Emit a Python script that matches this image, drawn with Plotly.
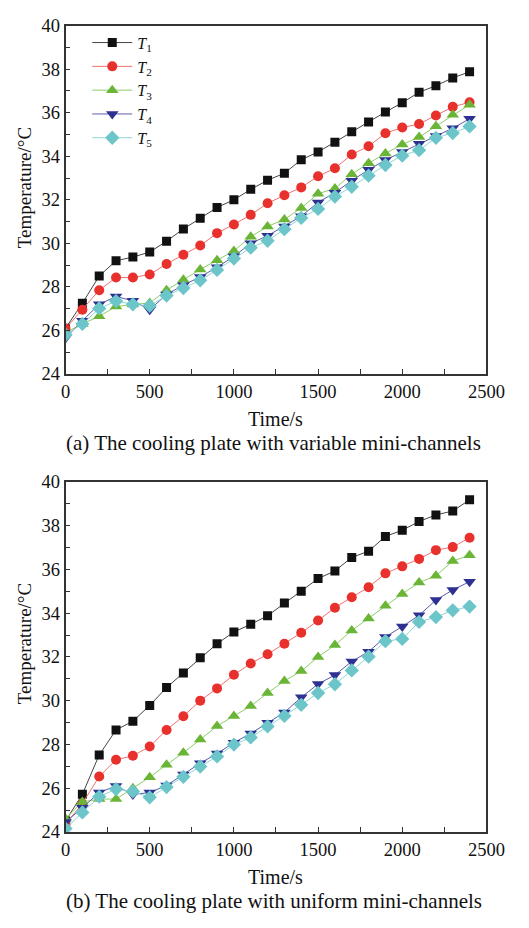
import plotly.graph_objects as go

time_s = [0, 100, 200, 300, 400, 500, 600, 700, 800, 900, 1000, 1100, 1200,
          1300, 1400, 1500, 1600, 1700, 1800, 1900, 2000, 2100, 2200, 2300, 2400]

# (a) variable mini-channels
a_T1 = [26.1, 27.25, 28.5, 29.2, 29.37, 29.6, 30.1, 30.66, 31.15, 31.65, 32.0, 32.48, 32.9,
        33.22, 33.84, 34.2, 34.65, 35.13, 35.58, 36.03, 36.46, 36.94, 37.24, 37.6, 37.88]
a_T2 = [26.08, 26.95, 27.85, 28.43, 28.43, 28.57, 29.05, 29.48, 29.9, 30.47, 30.87, 31.31, 31.84,
        32.21, 32.57, 33.08, 33.45, 34.08, 34.46, 35.06, 35.32, 35.48, 35.87, 36.27, 36.48]
a_T3 = [25.9, 26.3, 26.65, 27.1, 27.19, 27.26, 27.85, 28.33, 28.8, 29.23, 29.65, 30.3, 30.78,
        31.1, 31.62, 32.28, 32.52, 33.18, 33.68, 34.13, 34.54, 34.88, 35.38, 35.91, 36.37]
a_T4 = [25.65, 26.45, 27.2, 27.56, 27.36, 26.95, 27.65, 28.08, 28.46, 28.9, 29.4, 30.0, 30.35,
        30.78, 31.25, 31.88, 32.33, 32.88, 33.38, 33.83, 34.2, 34.58, 34.93, 35.29, 35.72]
a_T5 = [25.8, 26.3, 27.01, 27.35, 27.2, 27.13, 27.6, 27.95, 28.3, 28.78, 29.3, 29.8, 30.12,
        30.65, 31.17, 31.58, 32.15, 32.6, 33.11, 33.6, 34.03, 34.28, 34.85, 35.07, 35.37]

# (b) uniform mini-channels
b_T1 = [24.5, 25.72, 27.52, 28.66, 29.06, 29.78, 30.6, 31.26, 31.96, 32.6, 33.14, 33.49, 33.88,
        34.46, 35.0, 35.58, 35.93, 36.55, 36.83, 37.51, 37.79, 38.19, 38.49, 38.67, 39.18]
b_T2 = [24.35, 25.3, 26.53, 27.3, 27.48, 27.9, 28.66, 29.29, 30.0, 30.56, 31.18, 31.7, 32.12,
        32.6, 33.1, 33.66, 34.25, 34.73, 35.18, 35.82, 36.14, 36.48, 36.88, 37.02, 37.45]
b_T3 = [24.6, 25.37, 25.5, 25.5, 26.0, 26.5, 27.07, 27.62, 28.22, 28.84, 29.3, 29.75, 30.35,
        30.9, 31.35, 32.0, 32.54, 33.21, 33.76, 34.34, 34.88, 35.4, 35.71, 36.38, 36.65]
b_T4 = [24.45, 25.1, 25.8, 26.1, 25.71, 25.8, 26.12, 26.62, 27.14, 27.58, 28.08, 28.5, 28.99,
        29.46, 30.15, 30.76, 31.17, 31.79, 32.24, 32.91, 33.39, 33.9, 34.6, 35.06, 35.44]
b_T5 = [24.15, 24.89, 25.61, 25.96, 25.85, 25.58, 26.05, 26.52, 26.99, 27.45, 27.99, 28.32, 28.82,
        29.3, 29.81, 30.35, 30.75, 31.38, 32.01, 32.72, 32.82, 33.6, 33.82, 34.13, 34.3]

series_names = ["<i>T</i><sub>1</sub>", "<i>T</i><sub>2</sub>", "<i>T</i><sub>3</sub>",
                "<i>T</i><sub>4</sub>", "<i>T</i><sub>5</sub>"]
marker_colors = ["#111111", "#e8302c", "#6ab535", "#2e3192", "#6cc6c9"]
line_colors = ["#444444", "#f07070", "#8ccd6a", "#5a5ca8", "#8ed6d8"]
symbols = ["square", "circle", "triangle-up", "triangle-down", "diamond"]
sizes = [9, 10, 11, 11, 11]

fig = go.Figure()
for i, ys in enumerate([a_T1, a_T2, a_T3, a_T4, a_T5]):
    fig.add_trace(go.Scatter(x=time_s, y=ys, mode="lines+markers", name=series_names[i],
                             line=dict(color=line_colors[i], width=1),
                             marker=dict(symbol=symbols[i], size=sizes[i], color=marker_colors[i],
                                         line=dict(width=0)),
                             xaxis="x", yaxis="y", showlegend=True))
for i, ys in enumerate([b_T1, b_T2, b_T3, b_T4, b_T5]):
    fig.add_trace(go.Scatter(x=time_s, y=ys, mode="lines+markers", name=series_names[i],
                             line=dict(color=line_colors[i], width=1),
                             marker=dict(symbol=symbols[i], size=sizes[i], color=marker_colors[i],
                                         line=dict(width=0)),
                             xaxis="x2", yaxis="y2", showlegend=False))

W, H = 529, 928
def px(v):
    return v / W
def py(v):
    return 1 - v / H

font_family = "Liberation Serif"
tickfont = dict(family=font_family, size=18.5, color="#111111")

def xax(anchor, domain_y):
    return dict(domain=[px(63.3), px(503.3)], anchor=anchor, range=[0, 2500],
                tickmode="linear", tick0=0, dtick=500, ticks="inside", ticklen=5,
                tickwidth=1, tickcolor="#333333",
                minor=dict(dtick=250, ticks="inside", ticklen=5, tickcolor="#333333"),
                showline=True, linecolor="#333333", linewidth=1.5, mirror=True,
                showgrid=False, zeroline=False, tickfont=tickfont)

def yax(anchor, dom):
    return dict(domain=dom, anchor=anchor, range=[24, 40],
                tickmode="linear", tick0=24, dtick=2, ticks="inside", ticklen=5,
                tickwidth=1, tickcolor="#333333",
                minor=dict(dtick=1, ticks="inside", ticklen=5, tickcolor="#333333"),
                showline=True, linecolor="#333333", linewidth=1.5, mirror=True,
                showgrid=False, zeroline=False, tickfont=tickfont)

fig.update_layout(
    width=W, height=H, margin=dict(l=0, r=0, t=0, b=0),
    paper_bgcolor="white", plot_bgcolor="white",
    xaxis=xax("y", None), yaxis=yax("x", [py(372), py(16)]),
    xaxis2=xax("y2", None), yaxis2=yax("x2", [py(840), py(482.3)]),
    legend=dict(x=px(86), y=py(16), xanchor="left", yanchor="top",
                font=dict(family=font_family, size=16, color="#111111"),
                bgcolor="rgba(0,0,0,0)", borderwidth=0, tracegroupgap=0,
                itemwidth=40),
    showlegend=True,
)

annots = [
    dict(text="Time/s", x=px(283), y=py(418), size=20),
    dict(text="(a) The cooling plate with variable mini-channels", x=px(281), y=py(443), size=21),
    dict(text="Time/s", x=px(283), y=py(886), size=20),
    dict(text="(b) The cooling plate with uniform mini-channels", x=px(281), y=py(911), size=21),
]
for a in annots:
    fig.add_annotation(text=a["text"], x=a["x"], y=a["y"], xref="paper", yref="paper",
                       xanchor="center", yanchor="middle", showarrow=False,
                       font=dict(family=font_family, size=a["size"], color="#111111"))
for yc in [182, 648]:
    fig.add_annotation(text="Temperature/°C", x=px(20), y=py(yc), xref="paper", yref="paper",
                       xanchor="center", yanchor="middle", showarrow=False, textangle=-90,
                       font=dict(family=font_family, size=19, color="#111111"))

fig.write_html("out.html")
